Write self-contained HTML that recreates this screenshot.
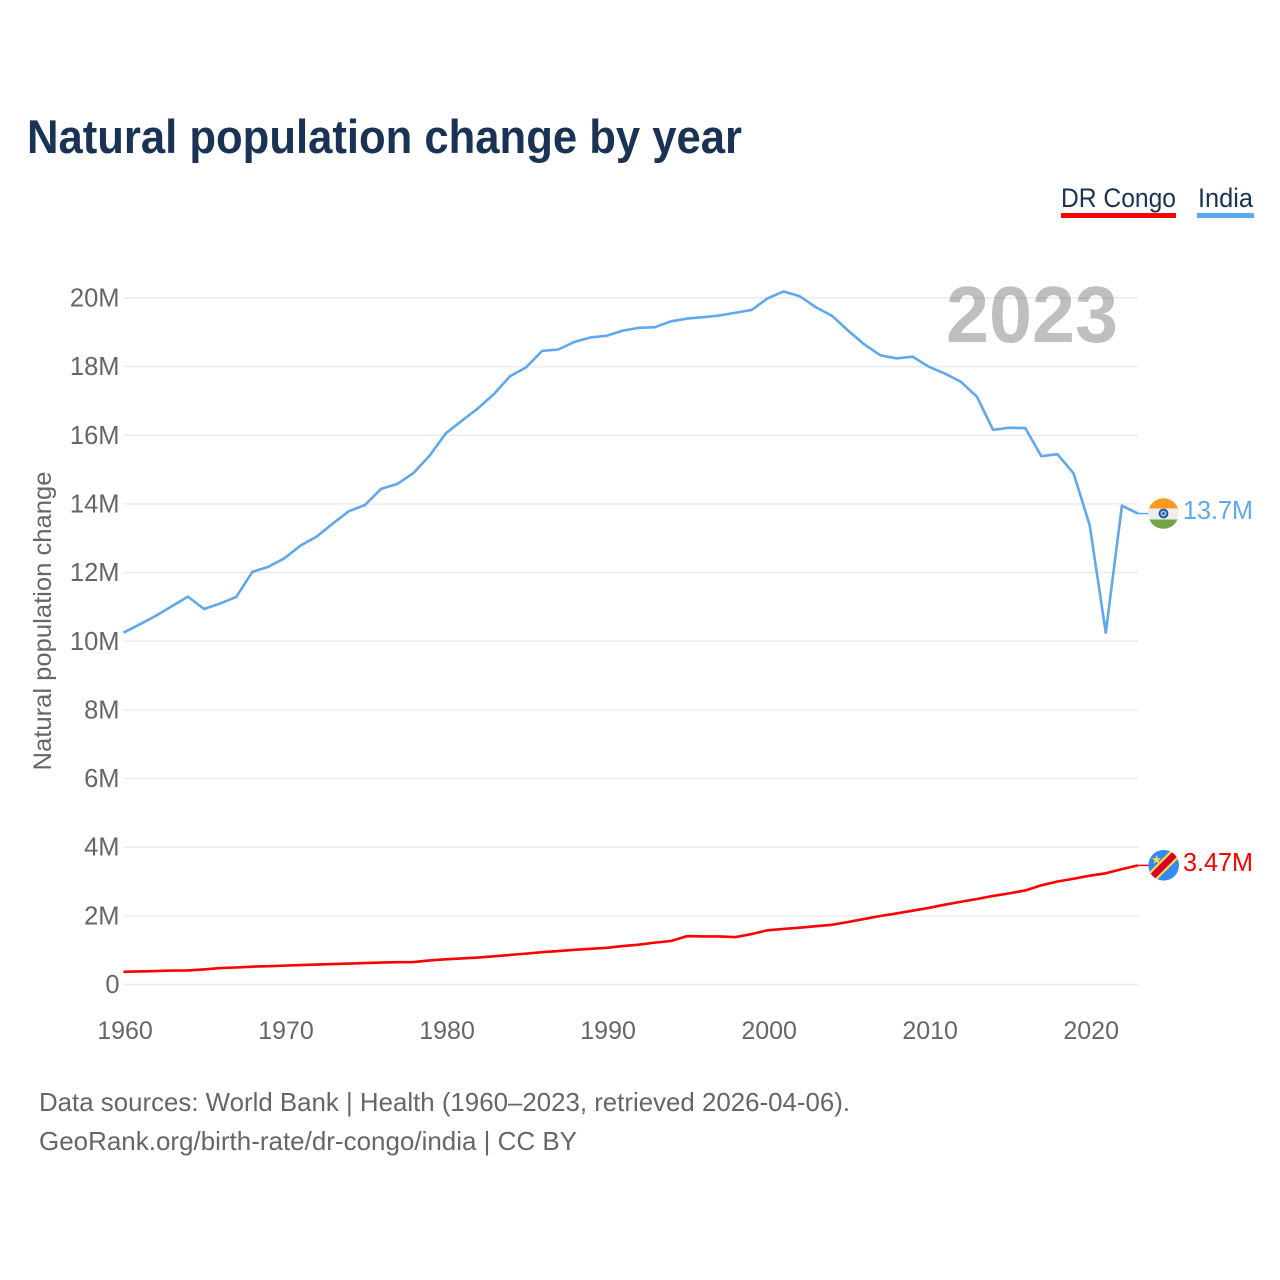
<!DOCTYPE html>
<html lang="en">
<head>
<meta charset="utf-8">
<title>Natural population change by year</title>
<style>
  html, body { margin: 0; padding: 0; background: #fff; }
  svg { display: block; font-family: "Liberation Sans", sans-serif; }
</style>
</head>
<body>
<svg id="chart" xmlns="http://www.w3.org/2000/svg" width="1280" height="1280" viewBox="0 0 1280 1280">
  <rect width="1280" height="1280" fill="#fff"/>
  <text x="27" y="153" font-size="47" font-weight="700" fill="#1a3354" textLength="715" lengthAdjust="spacingAndGlyphs">Natural population change by year</text>

  <g>
    <g>
      <text x="1061" y="207" font-size="27" fill="#1a3354" textLength="115" lengthAdjust="spacingAndGlyphs">DR Congo</text>
      <rect x="1061" y="213" width="115" height="5" fill="#ff0000"/>
    </g>
    <g>
      <text x="1198" y="207" font-size="27" fill="#1a3354" textLength="55" lengthAdjust="spacingAndGlyphs">India</text>
      <rect x="1197" y="213" width="57" height="5" fill="#5fa8ec"/>
    </g>
  </g>

  <g id="grid"></g>
  <g id="y-axis"></g>
  <g id="x-axis"></g>
  <text transform="translate(51 621) rotate(-90)" text-anchor="middle" font-size="25" fill="#666" textLength="299" lengthAdjust="spacingAndGlyphs">Natural population change</text>

  <text x="946" y="342" font-size="80" font-weight="700" fill="#000" fill-opacity="0.25" textLength="172" lengthAdjust="spacingAndGlyphs">2023</text>

  <g id="series"></g>

  <g>
    <clipPath id="india-clip"><circle cx="1163.5" cy="513.5" r="15.3"/></clipPath>
    <g clip-path="url(#india-clip)">
      <rect x="1148" y="498" width="31" height="10.5" fill="#fb9a1f"/>
      <rect x="1148" y="508.5" width="31" height="11" fill="#eeeeee"/>
      <rect x="1148" y="519.5" width="31" height="10.5" fill="#74a645"/>
      <circle cx="1163.5" cy="513.5" r="4" fill="#1450a8" fill-opacity="0.35" stroke="#1450a8" stroke-width="1.8"/>
      <circle cx="1163.5" cy="513.5" r="1.2" fill="#1450a8"/>
    </g>
    <text x="1183" y="519" font-size="26" fill="#5fa8ec" textLength="70" lengthAdjust="spacingAndGlyphs">13.7M</text>
  </g>

  <g>
    <clipPath id="congo-clip"><circle cx="1163.7" cy="865.3" r="15.3"/></clipPath>
    <g clip-path="url(#congo-clip)">
      <rect x="1148" y="850" width="32" height="32" fill="#338af3"/>
      <line x1="1146" y1="883" x2="1181" y2="848" stroke="#ffda44" stroke-width="11"/>
      <line x1="1146" y1="883" x2="1181" y2="848" stroke="#d80027" stroke-width="6.5"/>
      <polygon points="1156.5,855 1157.8,858.3 1161.2,858.4 1158.5,860.4 1159.5,863.8 1156.5,861.8 1153.6,863.8 1154.6,860.4 1151.8,858.4 1155.2,858.3" fill="#ffda44"/>
    </g>
    <text x="1183" y="871" font-size="26" fill="#ff0000" textLength="70" lengthAdjust="spacingAndGlyphs">3.47M</text>
  </g>

  <g font-size="26" fill="#666">
    <text x="39" y="1111" textLength="811" lengthAdjust="spacingAndGlyphs">Data sources: World Bank | Health (1960–2023, retrieved 2026-04-06).</text>
    <text x="39" y="1150" textLength="538" lengthAdjust="spacingAndGlyphs">GeoRank.org/birth-rate/dr-congo/india | CC BY</text>
  </g>
</svg>

<script>
const years = [1960,1961,1962,1963,1964,1965,1966,1967,1968,1969,1970,1971,1972,1973,1974,1975,1976,1977,1978,1979,1980,1981,1982,1983,1984,1985,1986,1987,1988,1989,1990,1991,1992,1993,1994,1995,1996,1997,1998,1999,2000,2001,2002,2003,2004,2005,2006,2007,2008,2009,2010,2011,2012,2013,2014,2015,2016,2017,2018,2019,2020,2021,2022,2023];
const indiaValues = [10.25,10.49,10.74,11.02,11.30,10.94,11.10,11.29,12.02,12.17,12.42,12.79,13.05,13.43,13.79,13.97,14.44,14.58,14.90,15.40,16.05,16.42,16.78,17.20,17.72,17.98,18.46,18.50,18.72,18.85,18.90,19.05,19.13,19.15,19.32,19.40,19.44,19.49,19.57,19.65,19.99,20.19,20.05,19.73,19.48,19.05,18.65,18.33,18.24,18.29,18.00,17.80,17.56,17.12,16.16,16.22,16.21,15.39,15.45,14.89,13.38,10.25,13.95,13.72];
const congoValues = [0.37,0.38,0.39,0.405,0.41,0.44,0.48,0.495,0.52,0.535,0.55,0.565,0.58,0.595,0.61,0.625,0.64,0.65,0.655,0.70,0.735,0.76,0.785,0.82,0.86,0.90,0.94,0.975,1.01,1.04,1.07,1.12,1.16,1.22,1.267,1.41,1.40,1.40,1.38,1.47,1.58,1.62,1.655,1.70,1.74,1.82,1.91,1.995,2.07,2.15,2.23,2.325,2.41,2.49,2.58,2.655,2.74,2.89,3.00,3.08,3.17,3.24,3.36,3.47];
const yTickValues = [0,2,4,6,8,10,12,14,16,18,20];
const yTickLabels = ["0","2M","4M","6M","8M","10M","12M","14M","16M","18M","20M"];
const xTickValues = [1960,1970,1980,1990,2000,2010,2020];
const xTickLabels = ["1960","1970","1980","1990","2000","2010","2020"];

const NS = "http://www.w3.org/2000/svg";
const plotLeft = 123.5, plotRight = 1138, yZero = 984.5, yPerMillion = 34.325;
const firstYear = 1960, lastYear = 2023;

function xScale(year) {
  return plotLeft + (year - firstYear) * (plotRight - plotLeft) / (lastYear - firstYear);
}
function yScale(value) {
  return yZero - value * yPerMillion;
}
function make(tag, attrs, parent) {
  const el = document.createElementNS(NS, tag);
  for (const key in attrs) el.setAttribute(key, attrs[key]);
  parent.appendChild(el);
  return el;
}

const gridLayer = document.getElementById("grid");
const yLayer = document.getElementById("y-axis");
const xLayer = document.getElementById("x-axis");
const seriesLayer = document.getElementById("series");

yTickValues.forEach(function (value, i) {
  const y = yScale(value);
  const gridLine = make("line", { x1: plotLeft, x2: plotRight, y1: y, y2: y, stroke: "#eaeaea", "stroke-width": 1.4 }, gridLayer);
  
  
  const label = make("text", { x: 119.5, y: y + 8.5, "text-anchor": "end", "font-size": 25.5, fill: "#666" }, yLayer);
  
  
  label.textContent = yTickLabels[i];
});

xTickValues.forEach(function (year, i) {
  const label = make("text", { x: xScale(year) + 1.5, y: 1039, "text-anchor": "middle", "font-size": 25, fill: "#666" }, xLayer);
  
  
  label.textContent = xTickLabels[i];
});

function drawSeries(values, color, lineName, connectorName) {
  const points = values.map(function (value, i) {
    return xScale(years[i]).toFixed(2) + "," + yScale(value).toFixed(2);
  }).join(" ");
  const line = make("polyline", { points: points, fill: "none", stroke: color, "stroke-width": 2.6, "stroke-linejoin": "round" }, seriesLayer);
  
  
  const lastY = yScale(values[values.length - 1]);
  const connector = make("line", { x1: xScale(lastYear), x2: 1150, y1: lastY, y2: lastY, stroke: color, "stroke-width": 1.5 }, seriesLayer);
  
  
}

drawSeries(indiaValues, "#5fa8ec", "india-line", "india-connector");
drawSeries(congoValues, "#ff0000", "dr-congo-line", "dr-congo-connector");
</script>
</body>
</html>
